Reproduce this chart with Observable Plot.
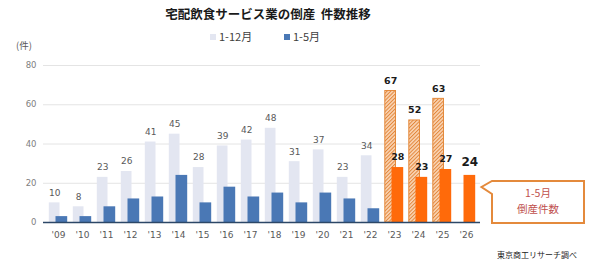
<!DOCTYPE html>
<html>
<head>
<meta charset="utf-8">
<script src="https://cdn.jsdelivr.net/npm/d3@7"></script>
<script src="https://cdn.jsdelivr.net/npm/@observablehq/plot@0.6"></script>
<style>
  body { margin: 0; background: #fff; }
  #wrap { position: relative; width: 600px; height: 269px; overflow: hidden; font-family: "Noto Sans CJK JP", sans-serif; }
  #title { position: absolute; left: 0; width: 536px; top: 5px; text-align: center; font-size: 12.5px; font-weight: bold; color: #1a1a1a; line-height: 18px; }
  .leg { position: absolute; top: 28px; font-size: 11px; line-height: 16px; color: #404040; }
  .sw { display: inline-block; width: 6px; height: 6px; margin-right: 3px; vertical-align: 1px; }
  #unit { position: absolute; left: 16px; top: 38px; font-size: 9.5px; color: #595959; line-height: 14px; }
  #chart { position: absolute; left: 0; top: 40px; }
  #overlay { position: absolute; left: 0; top: 0; }
  #source { position: absolute; left: 497px; top: 249px; font-size: 8px; color: #222; line-height: 12px; }
</style>
</head>
<body>
<div id="wrap">
  <div id="title">宅配飲食サービス業の倒産&nbsp;&nbsp;件数推移</div>
  <div class="leg" style="left:210px"><span class="sw" style="background:#e3e6f1"></span>1-12月</div>
  <div class="leg" style="left:284px"><span class="sw" style="background:#4a78b5"></span>1-5月</div>
  <div id="unit">(件)</div>
  <div id="chart"></div>
  <svg id="overlay" width="600" height="269">
    <path d="M492,181 H584 V223 H492 V194 L481.5,187 Z" fill="#fff" stroke="#e48a3c" stroke-width="2" stroke-linejoin="miter"/>
    <text x="538" y="194.5" text-anchor="middle" dominant-baseline="middle" font-family="Noto Sans CJK JP" font-size="10.5" fill="#c0504d">1-5月</text>
    <text x="538" y="210" text-anchor="middle" dominant-baseline="middle" font-family="Noto Sans CJK JP" font-size="10.5" fill="#c0504d">倒産件数</text>
  </svg>
  <div id="source">東京商工リサーチ調べ</div>
</div>
<script>
// Bankruptcies in food delivery services, by year
const years = ["'09", "'10", "'11", "'12", "'13", "'14", "'15", "'16", "'17", "'18", "'19", "'20", "'21", "'22", "'23", "'24", "'25", "'26"];
// full-year (Jan–Dec) counts; 2026 not yet complete
const fullYear = [10, 8, 23, 26, 41, 45, 28, 39, 42, 48, 31, 37, 23, 34, 67, 52, 63, null];
// Jan–May counts
const janMay = [3, 3, 8, 12, 13, 24, 10, 18, 13, 15, 10, 15, 12, 7, 28, 23, 27, 24];
// recent years drawn in orange
const highlighted = ["'23", "'24", "'25", "'26"];
const latestYear = "'26";
const yTicks = [0, 20, 40, 60, 80];

const rows = years.map((year, i) => ({
  year, full: fullYear[i], jm: janMay[i], recent: highlighted.includes(year)
}));
const fullRows = rows.filter(d => d.full != null);

// offsets of the paired bars inside each band
const L = {insetLeft: 2.8, insetRight: 10.5};
const R = {insetLeft: 9.5, insetRight: 2.8};

const chart = Plot.plot({
  width: 600,
  height: 210,
  marginLeft: 43,
  marginRight: 120,
  marginTop: 25,
  marginBottom: 28,
  x: {domain: years, padding: 0},
  y: {domain: [0, 80]},
  style: {fontFamily: "DejaVu Sans", background: "transparent"},
  marks: [
    Plot.gridY(yTicks.filter(t => t > 0), {stroke: "#e4e4e4", strokeOpacity: 1}),
    Plot.axisY({ticks: yTicks, tickSize: 0, tickPadding: 7, fontSize: 8.5, color: "#808080", label: null}),
    Plot.axisX({tickSize: 0, tickPadding: 9, fontSize: 9, color: "#595959", label: null}),
    // Jan–Dec bars
    Plot.barY(fullRows.filter(d => !d.recent), {x: "year", y: "full", fill: "#e3e6f1", ...L}),
    Plot.barY(fullRows.filter(d => d.recent), {x: "year", y: "full", fill: "url(#hatch)", stroke: "#e48a3c", strokeWidth: 1, ...L}),
    // Jan–May bars
    Plot.barY(rows.filter(d => !d.recent), {x: "year", y: "jm", fill: "#4a78b5", ...R}),
    Plot.barY(rows.filter(d => d.recent), {x: "year", y: "jm", fill: "#ff6a0a", ...R}),
    Plot.ruleY([0], {stroke: "#2c4767", strokeWidth: 1.5}),
    // value labels
    Plot.text(fullRows.filter(d => !d.recent), {x: "year", y: "full", text: d => String(d.full), dx: -3.8, dy: -10, fontSize: 9, fill: "#595959"}),
    Plot.text(fullRows.filter(d => d.recent), {x: "year", y: "full", text: d => String(d.full), dx: -3.8, dy: -10, fontSize: 9.5, fontWeight: "bold", fill: "#1a1a1a"}),
    Plot.text(rows.filter(d => d.recent && d.year !== latestYear), {x: "year", y: "jm", text: d => String(d.jm), dx: 3.3, dy: -10.5, fontSize: 9.5, fontWeight: "bold", fill: "#1a1a1a"}),
    Plot.text(rows.filter(d => d.year === latestYear), {x: "year", y: "jm", text: d => String(d.jm), dx: 3.3, dy: -13, fontSize: 12, fontWeight: "bold", fill: "#1a1a1a"})
  ]
});

// diagonal hatch fill for recent full-year bars
const defs = d3.select(chart).insert("defs", ":first-child");
const pat = defs.append("pattern")
  .attr("id", "hatch")
  .attr("patternUnits", "userSpaceOnUse")
  .attr("width", 2.6).attr("height", 2.6)
  .attr("patternTransform", "rotate(45)");
pat.append("rect").attr("width", 2.6).attr("height", 2.6).attr("fill", "#fad6b6");
pat.append("rect").attr("width", 1).attr("height", 2.6).attr("fill", "#e2863a");

document.getElementById("chart").appendChild(chart);
</script>
</body>
</html>
